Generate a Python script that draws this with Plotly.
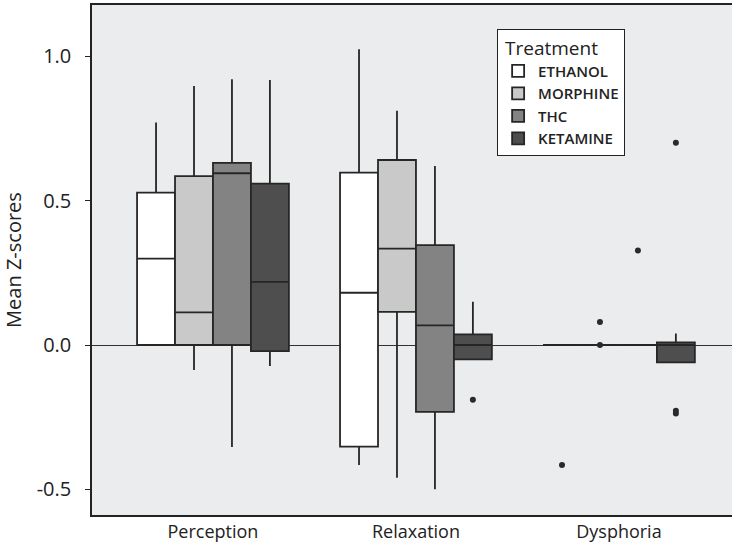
import plotly.graph_objects as go

categories = ["Perception", "Relaxation", "Dysphoria"]
treatments = ["ETHANOL", "MORPHINE", "THC", "KETAMINE"]

q1 = {
    "ETHANOL":  [0.0, -0.352, 0.0],
    "MORPHINE": [0.0, 0.115, 0.0],
    "THC":      [0.0, -0.232, 0.0],
    "KETAMINE": [-0.021, -0.050, -0.060],
}
median = {
    "ETHANOL":  [0.299, 0.181, 0.0],
    "MORPHINE": [0.113, 0.334, 0.0],
    "THC":      [0.595, 0.068, 0.0],
    "KETAMINE": [0.219, 0.0, 0.0],
}
q3 = {
    "ETHANOL":  [0.528, 0.597, 0.0],
    "MORPHINE": [0.585, 0.641, 0.0],
    "THC":      [0.631, 0.346, 0.0],
    "KETAMINE": [0.559, 0.037, 0.009],
}
lowerfence = {
    "ETHANOL":  [0.0, -0.416, 0.0],
    "MORPHINE": [-0.087, -0.460, 0.0],
    "THC":      [-0.353, -0.500, 0.0],
    "KETAMINE": [-0.073, -0.050, -0.060],
}
upperfence = {
    "ETHANOL":  [0.771, 1.025, 0.0],
    "MORPHINE": [0.897, 0.812, 0.0],
    "THC":      [0.921, 0.620, 0.0],
    "KETAMINE": [0.918, 0.150, 0.040],
}
outlier_cat = {
    "ETHANOL":  ["Dysphoria"],
    "MORPHINE": ["Dysphoria", "Dysphoria"],
    "THC":      ["Dysphoria"],
    "KETAMINE": ["Relaxation", "Dysphoria", "Dysphoria", "Dysphoria"],
}
outlier_val = {
    "ETHANOL":  [-0.416],
    "MORPHINE": [0.080, 0.0],
    "THC":      [0.327],
    "KETAMINE": [-0.190, 0.701, -0.237, -0.228],
}
y_ticks = [-0.5, 0.0, 0.5, 1.0]
y_tick_labels = ["-0.5", "0.0", "0.5", "1.0"]

colors = {"ETHANOL": "#ffffff", "MORPHINE": "#c8c9c8", "THC": "#838383", "KETAMINE": "#4e4e4e"}
box_w = 0.187
offsets = {t: (i - 1.5) * box_w for i, t in enumerate(treatments)}

fig = go.Figure()
for t in treatments:
    xs = [i + offsets[t] for i in range(len(categories))]
    fig.add_trace(go.Box(
        x=xs, q1=q1[t], median=median[t], q3=q3[t],
        lowerfence=lowerfence[t], upperfence=upperfence[t],
        width=box_w, name=t, fillcolor=colors[t],
        line=dict(color="#262626", width=1.8),
        boxpoints=False, whiskerwidth=0, hoverinfo="skip",
    ))
for t in treatments:
    ox = [categories.index(c) + offsets[t] for c in outlier_cat[t]]
    fig.add_trace(go.Scatter(
        x=ox, y=outlier_val[t], mode="markers", showlegend=False,
        marker=dict(color="#2a2a2a", size=6), hoverinfo="skip",
    ))

font_family = "Open Sans, Noto Sans, sans-serif"
fig.update_layout(
    width=732, height=546,
    margin=dict(l=92, r=0, t=5, b=31),
    paper_bgcolor="#ffffff", plot_bgcolor="#ebeced",
    font=dict(family=font_family, color="#222222", size=18),
    showlegend=True,
    legend=dict(
        title=dict(text=" Treatment", font=dict(size=19, color="#222", weight=400)),
        x=0.633, y=0.953, xanchor="left", yanchor="top",
        bgcolor="#ffffff", bordercolor="#222222", borderwidth=1,
        font=dict(size=15, color="#222", weight=600),
        tracegroupgap=0, itemwidth=30,
    ),
    xaxis=dict(
        range=[-0.596, 2.557], tickmode="array",
        tickvals=list(range(len(categories))), ticktext=categories,
        showgrid=False, zeroline=False, showline=True, mirror=True,
        linecolor="#222222", linewidth=1.5, ticks="",
        tickfont=dict(size=18), ticklabelstandoff=0, automargin=False,
    ),
    yaxis=dict(
        range=[-0.589, 1.178], tickmode="array",
        tickvals=y_ticks, ticktext=y_tick_labels,
        showgrid=False, zeroline=True, zerolinecolor="#333333", zerolinewidth=1,
        showline=True, linecolor="#222222", linewidth=1.5,
        ticks="outside", ticklen=5, tickcolor="#222222",
        tickfont=dict(size=20), ticklabelstandoff=10, automargin=False,
        title=dict(text="Mean Z-scores", font=dict(size=20), standoff=10),
        layer="above traces",
    ),
)

fig.write_html("out.html")
